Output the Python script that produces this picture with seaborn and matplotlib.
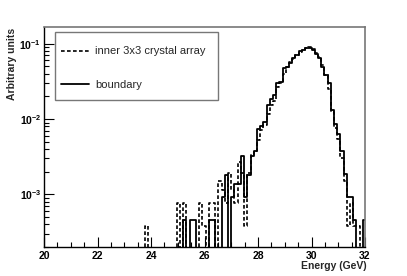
import numpy as np
import pandas as pd
import matplotlib
matplotlib.use("Agg")
import matplotlib.pyplot as plt
import seaborn as sns
from matplotlib.ticker import MultipleLocator, LogLocator, NullFormatter, FixedLocator, FixedFormatter
from matplotlib.lines import Line2D
from matplotlib.patches import Rectangle

# ---- data (bin index -> value), bins of 0.12 GeV starting at 20.04 GeV ----
bin_start = 20.04
bin_width = 0.12
n_bins = 100

inner_bins = [31, 41, 43, 48, 49, 51, 52, 54, 55, 56, 57, 58, 59, 60, 61, 62, 63, 64, 65, 66,
              67, 68, 69, 70, 71, 72, 73, 74, 75, 76, 77, 78, 79, 80, 81, 82, 83, 84, 85, 86,
              87, 88, 89, 90, 91, 92, 93, 94, 95, 96, 97]
inner_vals = [3.8e-4, 7.6e-4, 7.6e-4, 7.6e-4, 3.8e-4, 7.6e-4, 7.6e-4, 1.52e-3, 1.14e-3, 7.6e-4,
              1.9e-3, 1.14e-3, 7.6e-4, 2.7e-3, 1.9e-3, 3.8e-4, 1.9e-3, 3.4e-3, 3.8e-3, 5.3e-3,
              7.2e-3, 8.4e-3, 0.0118, 0.0152, 0.0175, 0.0266, 0.030, 0.040, 0.049, 0.057,
              0.063, 0.072, 0.078, 0.083, 0.087, 0.090, 0.085, 0.076, 0.066, 0.052,
              0.039, 0.025, 0.0125, 0.0075, 0.0055, 0.0030, 1.5e-3, 3.8e-4, 7.6e-4, 3.8e-4, 3.8e-4]

boundary_bins = [43, 45, 46, 51, 52, 55, 56, 58, 59, 60, 61, 62, 63, 64, 65, 66, 67, 68, 69, 70,
                 71, 72, 73, 74, 75, 76, 77, 78, 79, 80, 81, 82, 83, 84, 85, 86, 87, 88, 89, 90,
                 91, 92, 93, 94, 95, 96, 99]
boundary_vals = [4.6e-4, 4.6e-4, 4.6e-4, 4.6e-4, 4.6e-4, 9.1e-4, 1.82e-3, 9.1e-4, 1.37e-3, 1.37e-3,
                 3.2e-3, 9.1e-4, 1.82e-3, 3.2e-3, 3.8e-3, 7.4e-3, 8.2e-3, 9.1e-3, 0.0152, 0.0187,
                 0.0207, 0.030, 0.031, 0.047, 0.049, 0.055, 0.064, 0.070, 0.080, 0.082,
                 0.087, 0.089, 0.082, 0.074, 0.064, 0.049, 0.038, 0.030, 0.0133, 0.0087,
                 0.0064, 0.0038, 0.00187, 9.1e-4, 9.1e-4, 4.6e-4, 4.6e-4]

series_labels = ["inner 3x3 crystal array", "boundary"]
x_ticks = [20, 22, 24, 26, 28, 30, 32]
y_ticks = [1e-3, 1e-2, 1e-1]
y_tick_labels = [r"$\mathbf{10^{-3}}$", r"$\mathbf{10^{-2}}$", r"$\mathbf{10^{-1}}$"]

# ---- build tables ----
edges = [round(bin_start + bin_width * i, 4) for i in range(n_bins + 1)]
centers = [e + bin_width / 2 for e in edges[:-1]]

def full(bins, vals):
    w = np.zeros(n_bins)
    w[np.array(bins)] = vals
    return w

df_inner = pd.DataFrame({"energy": centers, "weight": full(inner_bins, inner_vals)})
df_bound = pd.DataFrame({"energy": centers, "weight": full(boundary_bins, boundary_vals)})

sns.set_style("white")
plt.rcParams["font.family"] = ["Liberation Sans", "DejaVu Sans"]
plt.rcParams["mathtext.fontset"] = "custom"
plt.rcParams["mathtext.rm"] = "Liberation Sans:bold"
plt.rcParams["mathtext.it"] = "Liberation Sans:bold"
plt.rcParams["mathtext.bf"] = "Liberation Sans:bold"

fig = plt.figure(figsize=(4.07, 2.76), dpi=100)
ax = fig.add_axes([44 / 407, 1 - 247 / 276, (365 - 44) / 407, (247 - 27) / 276])
ax.set_yscale("log")

dash = (0, (2.2, 1.4))
sns.histplot(data=df_inner, x="energy", weights="weight", bins=edges, element="step", fill=False,
             color="black", linewidth=1.2, linestyle=dash, ax=ax)
sns.histplot(data=df_bound, x="energy", weights="weight", bins=edges, element="step", fill=False,
             color="black", linewidth=1.3, ax=ax)

ax.set_xlim(20, 32)
ax.set_ylim(2e-4, 0.167)

# ticks (ROOT style: inside)
ax.xaxis.set_major_locator(FixedLocator(x_ticks))
ax.xaxis.set_major_formatter(FixedFormatter([str(t) for t in x_ticks]))
ax.xaxis.set_minor_locator(MultipleLocator(0.5))
ax.yaxis.set_major_locator(FixedLocator(y_ticks))
ax.yaxis.set_major_formatter(FixedFormatter(y_tick_labels))
ax.yaxis.set_minor_locator(LogLocator(base=10, subs=np.arange(2, 10), numticks=20))
ax.yaxis.set_minor_formatter(NullFormatter())
ax.tick_params(axis="both", which="both", bottom=True, left=True, top=False, right=False)
ax.tick_params(axis="both", which="major", direction="in", length=7, width=0.8,
               labelsize=7.5, colors="black")
ax.tick_params(axis="both", which="minor", direction="in", length=3.5, width=0.8, colors="black")
ax.tick_params(axis="x", pad=3)
ax.tick_params(axis="y", pad=2)
for lab in ax.get_xticklabels():
    lab.set_fontweight("bold")

for s in ["left", "bottom"]:
    ax.spines[s].set_color("black")
    ax.spines[s].set_linewidth(1.0)
for s in ["top", "right"]:
    ax.spines[s].set_color("#777777")
    ax.spines[s].set_linewidth(1.2)

ax.set_xlabel("Energy (GeV)", fontsize=7.5, fontweight="bold", loc="right")
ax.xaxis.set_label_coords(1.005, -0.062)
ax.set_ylabel("Arbitrary units", fontsize=7.5, fontweight="bold", loc="top")
ax.yaxis.set_label_coords(-0.083, 0.995)

# legend box + entries
ax.add_patch(Rectangle((11 / 321, 1 - 100 / 220 + 27 / 220), (218 - 55) / 321, 68 / 220,
                       transform=ax.transAxes, fill=False, edgecolor="#777777", linewidth=1.0,
                       zorder=5))
handles = [Line2D([], [], color="black", lw=1.2, linestyle=dash),
           Line2D([], [], color="black", lw=1.3)]
leg = ax.legend(handles, series_labels, loc="upper left",
                bbox_to_anchor=((60.5 - 44) / 321, (247 - 46.5) / 220),
                frameon=False, fontsize=8, handlelength=2.6,
                labelspacing=2.1, borderpad=0, handletextpad=0.5, borderaxespad=0)

fig.savefig("out.png", dpi=100)
